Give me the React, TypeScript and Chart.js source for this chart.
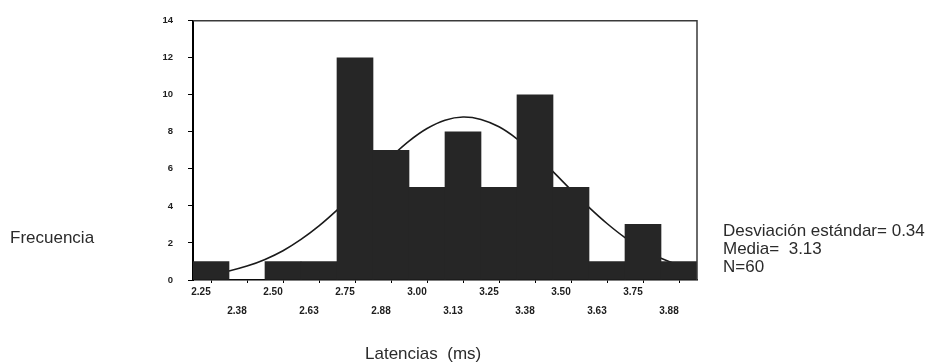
import React, { useEffect, useRef } from "react";
import { Chart, registerables } from "chart.js";

Chart.register(...registerables);

// Histogram bins (bin centres, in ms) and their frequencies
const binCenters = [2.25, 2.375, 2.5, 2.625, 2.75, 2.875, 3.0, 3.125, 3.25, 3.375, 3.5, 3.625, 3.75, 3.875];
const xTickLabels = ["2.25", "2.38", "2.50", "2.63", "2.75", "2.88", "3.00", "3.13", "3.25", "3.38", "3.50", "3.63", "3.75", "3.88"];
const frequencies = [1, 0, 1, 1, 12, 7, 5, 8, 5, 10, 5, 1, 3, 1];

// Fitted normal curve
const curveX = [2.1875, 2.25, 2.3125, 2.375, 2.4375, 2.5, 2.5625, 2.625, 2.6875, 2.75, 2.8125, 2.875, 2.9375, 3.0, 3.0625, 3.125, 3.1875, 3.25, 3.3125, 3.375, 3.4375, 3.5, 3.5625, 3.625, 3.6875, 3.75, 3.8125, 3.875, 3.9375];
const curveY = [0.19, 0.31, 0.49, 0.75, 1.11, 1.58, 2.19, 2.92, 3.77, 4.71, 5.69, 6.64, 7.5, 8.18, 8.63, 8.8, 8.67, 8.27, 7.62, 6.79, 5.85, 4.87, 3.92, 3.05, 2.29, 1.67, 1.17, 0.8, 0.52];

const yTicks = [0, 2, 4, 6, 8, 10, 12, 14];

const statsLines = ["Desviación estándar= 0.34", "Media=  3.13", "N=60"];
const yTitle = "Frecuencia";
const xTitle = "Latencias  (ms)";

const FONT = "'Liberation Sans', Arial, sans-serif";

const framePlugin = {
  id: "frame",
  afterDatasetsDraw(chart: any) {
    const { ctx, chartArea } = chart;
    ctx.save();
    ctx.strokeStyle = "#3a3a3a";
    ctx.lineWidth = 1.5;
    ctx.beginPath();
    ctx.moveTo(chartArea.left, chartArea.top);
    ctx.lineTo(chartArea.right, chartArea.top);
    ctx.lineTo(chartArea.right, chartArea.bottom);
    ctx.stroke();
    ctx.restore();
  },
};

export default function App() {
  const ref = useRef<HTMLCanvasElement | null>(null);

  useEffect(() => {
    if (!ref.current) return;
    const chart = new Chart(ref.current, {
      type: "bar",
      data: {
        datasets: [
          {
            type: "bar",
            data: binCenters.map((x, i) => ({ x, y: frequencies[i] })),
            backgroundColor: "#262626",
            borderWidth: 0,
            barPercentage: 1,
            categoryPercentage: 1,
            order: 0,
          } as any,
          {
            type: "line",
            data: curveX.map((x, i) => ({ x, y: curveY[i] })),
            borderColor: "#1a1a1a",
            borderWidth: 1.6,
            pointRadius: 0,
            tension: 0.4,
            fill: false,
            order: 1,
          } as any,
        ],
      },
      options: {
        animation: false,
        responsive: false,
        layout: { padding: { top: 15, right: 235, left: 0, bottom: 0 } },
        plugins: { legend: { display: false }, tooltip: { enabled: false } },
        scales: {
          x: {
            type: "linear",
            offset: false,
            min: 2.1875,
            max: 3.9375,
            afterBuildTicks: (scale: any) => {
              scale.ticks = binCenters.map((v) => ({ value: v }));
            },
            afterFit: (scale: any) => {
              scale.height = 82;
            },
            ticks: {
              autoSkip: false,
              maxRotation: 0,
              minRotation: 0,
              padding: 0,
              labelOffset: -10,
              color: "#1e1e1e",
              font: { family: FONT, size: 10, weight: "bold", lineHeight: "19px" } as any,
              callback: (_v: any, index: number) =>
                index % 2 === 0 ? [xTickLabels[index], ""] : ["", xTickLabels[index]],
            },
            grid: { offset: false, drawOnChartArea: false, tickLength: 3, color: "#000" },
            border: { display: true, color: "#000", width: 1.5 },
          },
          y: {
            min: 0,
            max: 14,
            afterBuildTicks: (scale: any) => {
              scale.ticks = yTicks.map((v) => ({ value: v }));
            },
            afterFit: (scale: any) => {
              scale.width = 193;
            },
            ticks: {
              padding: 15,
              color: "#1e1e1e",
              font: { family: FONT, size: 9.5, weight: "bold" } as any,
            },
            grid: { drawOnChartArea: false, tickLength: 5, color: "#000" },
            border: { display: true, color: "#000", width: 2 },
          },
        },
      },
      plugins: [framePlugin],
    });
    return () => chart.destroy();
  }, []);

  const textStyle: React.CSSProperties = {
    position: "absolute",
    fontFamily: FONT,
    fontSize: 17,
    lineHeight: "18px",
    color: "#2b2b2b",
    whiteSpace: "pre",
  };

  return (
    <div style={{ position: "absolute", left: 0, top: 0, width: 932, height: 362, background: "#fff", overflow: "hidden" }}>
      <canvas ref={ref} width={932} height={362} style={{ position: "absolute", left: 0, top: 0 }} />
      <div style={{ ...textStyle, left: 10, top: 229 }}>{yTitle}</div>
      <div style={{ ...textStyle, left: 365, top: 345 }}>{xTitle}</div>
      <div style={{ ...textStyle, left: 723, top: 222 }}>
        {statsLines.map((s, i) => (
          <div key={i}>{s}</div>
        ))}
      </div>
    </div>
  );
}
